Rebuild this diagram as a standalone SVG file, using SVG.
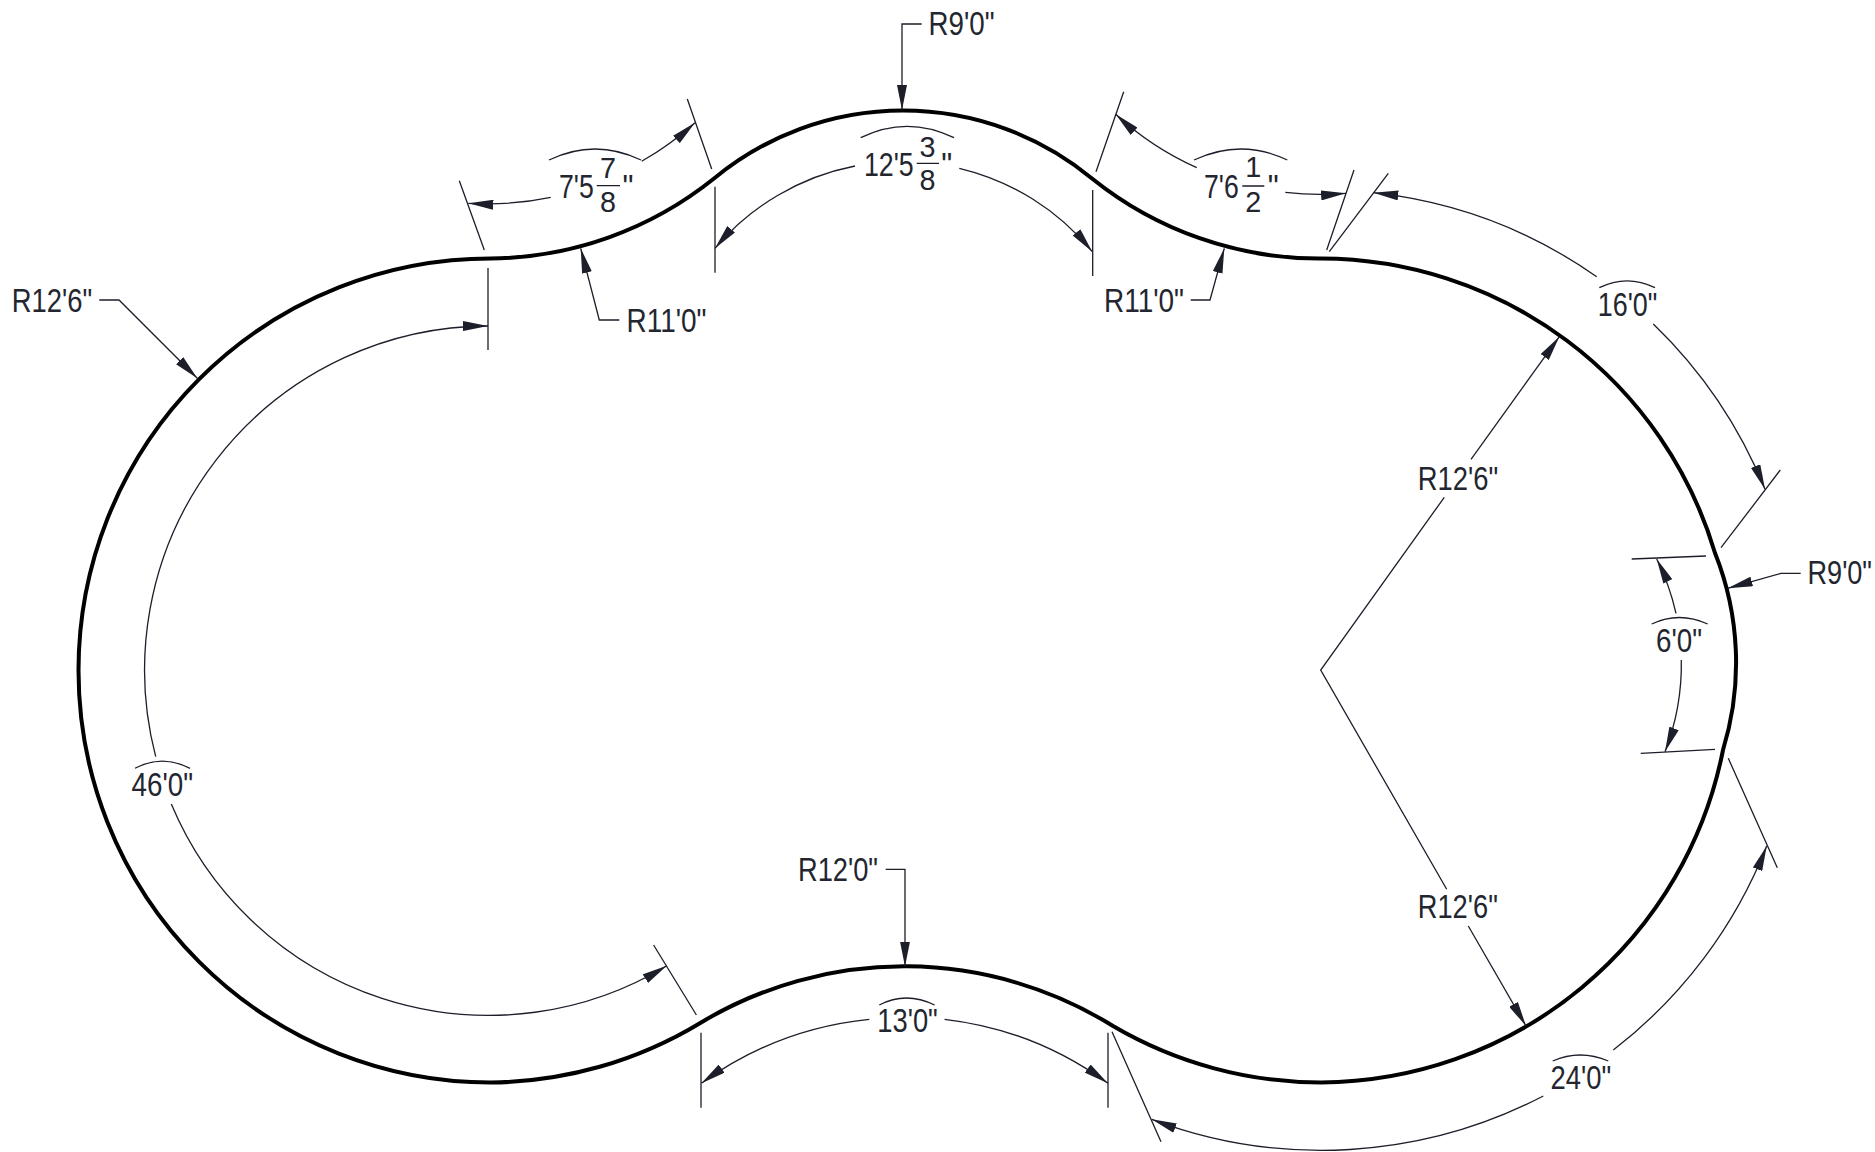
<svg xmlns="http://www.w3.org/2000/svg" width="1875" height="1152" viewBox="0 0 1875 1152">
<style>
.o{fill:none;stroke:#000;stroke-width:4}
.d{fill:none;stroke:#1c1e2a;stroke-width:1.3}
.a{marker-end:url(#arr)}
text{font-family:"Liberation Sans Narrow","Liberation Sans",Arial,sans-serif;font-size:33.5px;fill:#23262f}
text.f{font-size:30px}
text.s{font-size:32.5px}
</style>
<defs>
<marker id="arr" markerUnits="userSpaceOnUse" viewBox="0 0 25 10" refX="25" refY="5" markerWidth="25" markerHeight="10" orient="auto">
<path d="M0 0L25 5L0 10Z" fill="#1c1e2a"/>
</marker>
</defs>
<rect width="1875" height="1152" fill="#fff"/>
<g id="outline">
<path class="o" d="M490.5 258.5A362.6 362.6 0 0 0 714 178.5A296.6 296.6 0 0 1 1092 178.5A362.6 362.6 0 0 0 1321 258.5A412 412 0 0 1 1715 553A296.6 296.6 0 0 1 1723 750A412 412 0 0 1 1321 1082.5A412 412 0 0 1 1113 1026A395.5 395.5 0 0 0 700.7 1022.7A412 412 0 0 1 490.5 1082.5A412 412 0 0 1 78.5 670.5A412 412 0 0 1 490.5 258.5Z"/>
</g>
<g id="connectors">
<!-- extension lines -->
<path class="d" d="M459.3 180.7L484.3 250M687.3 99L711.7 169M488 268V350M715 186.7V272.7M1092.7 190V276M1096 171.7L1123.7 91.7M1326.7 250L1354 170M1329.3 251.7L1388.3 173.3M1721 547.7L1780.3 470M1631.7 559L1706 556M1640.7 753.3L1715 749.3M1728.3 758.3L1777.3 867.7M1112 1031.7L1161 1141.7M701 1032.7V1107.7M1108 1032.7V1107.7M653.6 945L696.4 1015"/>
<!-- dimension arcs -->
<path class="d a" d="M155.7 756.7A344 344 0 0 1 488 326"/>
<path class="d a" d="M171.3 804A344 344 0 0 0 666.8 965.7"/>
<path class="d a" d="M550.7 197.3A307 307 0 0 1 468.3 203.3"/>
<path class="d a" d="M641.7 161.3A307 307 0 0 0 695 122.7"/>
<path class="d a" d="M855 166A245 245 0 0 0 715 248.3"/>
<path class="d a" d="M959.3 168.3A245 245 0 0 1 1092.3 251.7"/>
<path class="d a" d="M1196.7 167.7A300 300 0 0 1 1115.7 114.3"/>
<path class="d a" d="M1285.3 192.3A300 300 0 0 0 1346 193.3"/>
<path class="d a" d="M1596.7 276.7A480 480 0 0 0 1373.3 192.7"/>
<path class="d a" d="M1653.3 324A480 480 0 0 1 1765 489.3"/>
<path class="d a" d="M1676 613.3A241 241 0 0 0 1656.7 559"/>
<path class="d a" d="M1681.3 660A241 241 0 0 1 1665 751.7"/>
<path class="d a" d="M1613.3 1050A480 480 0 0 0 1766.7 846"/>
<path class="d a" d="M1543.3 1096A480 480 0 0 1 1151.7 1119.3"/>
<path class="d a" d="M869.3 1019.3A345 345 0 0 0 701.4 1083.3"/>
<path class="d a" d="M944.6 1019.3A345 345 0 0 1 1107.9 1083.3"/>
<!-- leaders -->
<path class="d a" d="M921.7 24H902V110"/>
<path class="d a" d="M619.3 320H599.3L580.7 248.3"/>
<path class="d a" d="M1190.7 300H1210L1224.3 248.3"/>
<path class="d a" d="M99.3 300H119L197.3 378.3"/>
<path class="d a" d="M1800.7 573.3H1781L1727.7 588.3"/>
<path class="d a" d="M885.7 869.3H905V966.5"/>
<!-- radius lines -->
<path class="d a" d="M1471 459.3L1559.3 336.7"/>
<path class="d" d="M1444.3 497.3L1320.7 670L1446.7 889.3"/>
<path class="d a" d="M1468.3 926L1526 1026"/>
<!-- fraction bars and hats -->
<path class="d" d="M596.7 185.7H620M916.7 163.3H939M1242.3 186H1264.3"/>
<path class="d" d="M549 160Q595 138 641 160M860.7 137.7Q907 115 954 137.7M1194 160Q1241 138 1287.3 160M1599.3 287.7Q1627 274 1655 287.7M1651.7 624Q1679 611 1707.7 624M1552.7 1061Q1580 1049 1608.3 1061M879.3 1005Q906 991 934.6 1005M135 768.3Q162 754 190 768.3"/>
</g>
<g id="label-r9-top"><text x="928.5" y="35" textLength="66" lengthAdjust="spacingAndGlyphs">R9'0"</text></g>
<g id="label-r9-right"><text class="s" x="1807.5" y="584.3" textLength="64.5" lengthAdjust="spacingAndGlyphs">R9'0"</text></g>
<g id="label-r11-left"><text x="626.5" y="331.7" textLength="80" lengthAdjust="spacingAndGlyphs">R11'0"</text></g>
<g id="label-r11-right"><text x="1104" y="311.7" textLength="80" lengthAdjust="spacingAndGlyphs">R11'0"</text></g>
<g id="label-r12-6-left"><text x="11.8" y="311.7" textLength="80.4" lengthAdjust="spacingAndGlyphs">R12'6"</text></g>
<g id="label-r12-6-upper"><text x="1417.8" y="490" textLength="80.4" lengthAdjust="spacingAndGlyphs">R12'6"</text></g>
<g id="label-r12-6-lower"><text x="1417.8" y="918.3" textLength="80" lengthAdjust="spacingAndGlyphs">R12'6"</text></g>
<g id="label-r12-0"><text x="798" y="881" textLength="80" lengthAdjust="spacingAndGlyphs">R12'0"</text></g>
<g id="label-46"><text x="131.5" y="796" textLength="61.5" lengthAdjust="spacingAndGlyphs">46'0"</text></g>
<g id="label-13"><text x="877.3" y="1032.3" textLength="60.5" lengthAdjust="spacingAndGlyphs">13'0"</text></g>
<g id="label-24"><text x="1550.5" y="1089.3" textLength="60.8" lengthAdjust="spacingAndGlyphs">24'0"</text></g>
<g id="label-16"><text x="1597.7" y="315.7" textLength="59.6" lengthAdjust="spacingAndGlyphs">16'0"</text></g>
<g id="label-6"><text x="1656" y="652.3" textLength="46" lengthAdjust="spacingAndGlyphs">6'0"</text></g>
<g id="label-7-5-7-8">
<text x="559" y="197.7" textLength="34.7" lengthAdjust="spacingAndGlyphs">7'5</text>
<text class="f" x="600" y="178.3" textLength="16" lengthAdjust="spacingAndGlyphs">7</text>
<text class="f" x="600" y="211.7" textLength="16" lengthAdjust="spacingAndGlyphs">8</text>
<text x="622.5" y="197.7" textLength="11" lengthAdjust="spacingAndGlyphs">"</text>
</g>
<g id="label-12-5-3-8">
<text x="864" y="175.7" textLength="49.7" lengthAdjust="spacingAndGlyphs">12'5</text>
<text class="f" x="919.5" y="156.7" textLength="16" lengthAdjust="spacingAndGlyphs">3</text>
<text class="f" x="919.5" y="190" textLength="16" lengthAdjust="spacingAndGlyphs">8</text>
<text x="941.2" y="175.7" textLength="11" lengthAdjust="spacingAndGlyphs">"</text>
</g>
<g id="label-7-6-1-2">
<text x="1204" y="197.7" textLength="34.7" lengthAdjust="spacingAndGlyphs">7'6</text>
<text class="f" x="1245.3" y="176.7" textLength="16" lengthAdjust="spacingAndGlyphs">1</text>
<text class="f" x="1245.3" y="211.7" textLength="16" lengthAdjust="spacingAndGlyphs">2</text>
<text x="1267.8" y="197.7" textLength="11" lengthAdjust="spacingAndGlyphs">"</text>
</g>
</svg>
